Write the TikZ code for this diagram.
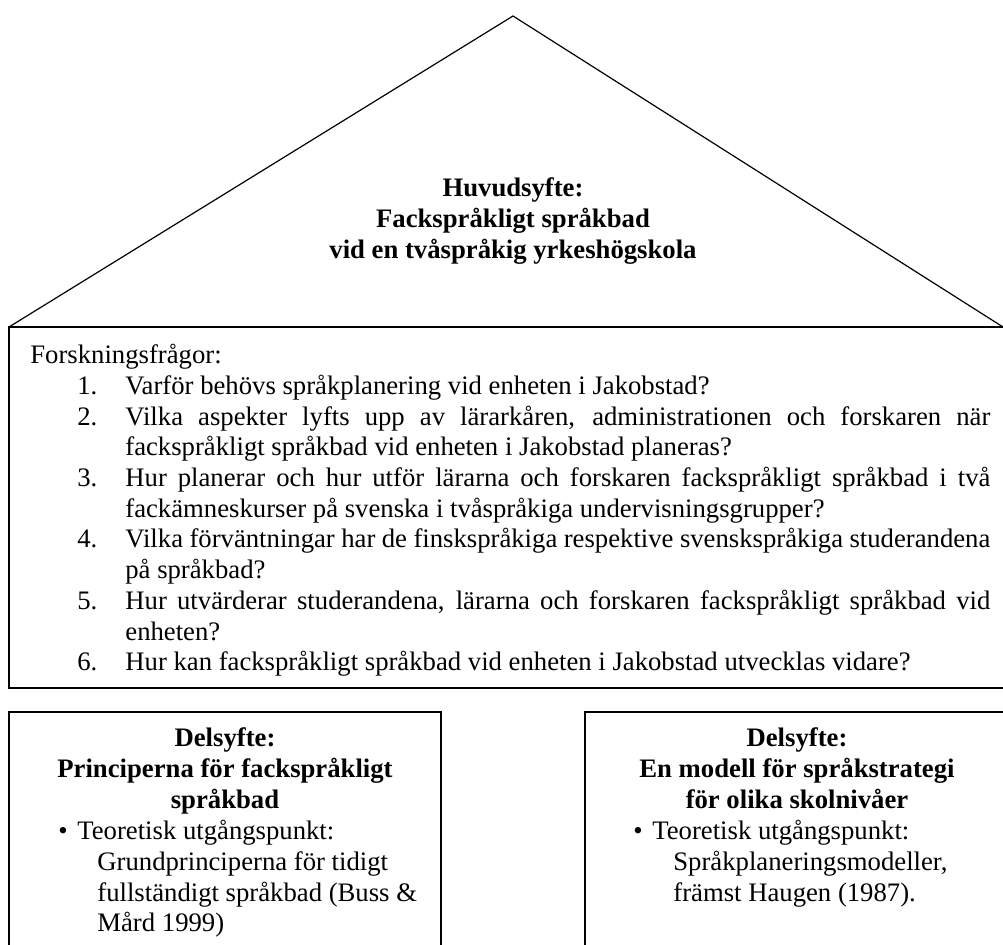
\documentclass[tikz,border=0pt]{standalone}
\usepackage{fontspec}
\setmainfont{Liberation Serif}
\newcommand{\diagfont}{\fontsize{13.35pt}{15.35pt}\selectfont}
\newcounter{fraga}
\newenvironment{fragelista}{\begin{list}{\arabic{fraga}.}{\usecounter{fraga}%
  \setlength{\leftmargin}{47.5pt}\setlength{\labelwidth}{24pt}%
  \setlength{\labelsep}{0pt}\setlength{\itemsep}{0pt}\setlength{\parsep}{0pt}%
  \setlength{\topsep}{0pt}\setlength{\partopsep}{0pt}%
  \renewcommand{\makelabel}[1]{##1\hfil}}}{\end{list}}
\begin{document}
\begin{tikzpicture}[x=0.5pt,y=0.5pt,yscale=-1,xscale=1,
  roofline/.style={line width=0.6pt,line join=miter},
  boxline/.style={line width=1pt},
  txt/.style={inner sep=0pt,font=\diagfont}]
\useasboundingbox (0,0) rectangle (1003,945);

%Shape: Roof
\draw [roofline] (9,327) -- (513,16) -- (1003,327) ;
%Shape: Rectangle
\draw [boxline] (9,327) rectangle (1004,688) ;
%Shape: Rectangle
\draw [boxline] (9,712) rectangle (441,960) ;
%Shape: Rectangle
\draw [boxline] (585,712) rectangle (1004,960) ;

% Text Node
\draw (513,177.5) node [anchor=north][txt,font=\diagfont\bfseries,align=center] (huvudsyfte) {Huvudsyfte:\\Fackspråkligt språkbad\\vid en tvåspråkig yrkeshögskola};
% Text Node
\draw (30,344) node [anchor=north west][txt,text width=480pt,align=justify] (fragor) {\setlength{\linewidth}{\hsize}\noindent Forskningsfrågor:
\begin{fragelista}
\item Varför behövs språkplanering vid enheten i Jakobstad?
\item Vilka aspekter lyfts upp av lärarkåren, administrationen och forskaren när\linebreak fackspråkligt språkbad vid enheten i Jakobstad planeras?
\item Hur planerar och hur utför lärarna och forskaren fackspråkligt språkbad i två\linebreak fackämneskurser på svenska i tvåspråkiga undervisningsgrupper?
\item Vilka förväntningar har de finskspråkiga respektive svenskspråkiga studerandena\linebreak på språkbad?
\item Hur utvärderar studerandena, lärarna och forskaren fackspråkligt språkbad vid\linebreak enheten?
\item Hur kan fackspråkligt språkbad vid enheten i Jakobstad utvecklas vidare?
\end{fragelista}};
% Text Node
\draw (225,727.5) node [anchor=north][txt,font=\diagfont\bfseries,align=center] (delsyfteA) {Delsyfte:\\Principerna för fackspråkligt\\språkbad};
% Text Node
\draw (97,820) node [anchor=north west][txt,text width=165pt,align=flush left] (teoriA) {\hspace*{-19.5pt}\makebox[9.5pt][l]{\textbullet}Teoretisk utgångspunkt:\\Grundprinciperna för tidigt\\fullständigt språkbad (Buss \&\\Mård 1999)};
% Text Node
\draw (797,727.5) node [anchor=north][txt,font=\diagfont\bfseries,align=center] (delsyfteB) {Delsyfte:\\En modell för språkstrategi\\för olika skolnivåer};
% Text Node
\draw (673,820) node [anchor=north west][txt,text width=160pt,align=flush left] (teoriB) {\hspace*{-20pt}\makebox[9.5pt][l]{\textbullet}Teoretisk utgångspunkt:\\Språkplaneringsmodeller,\\främst Haugen (1987).};

\end{tikzpicture}
\end{document}
